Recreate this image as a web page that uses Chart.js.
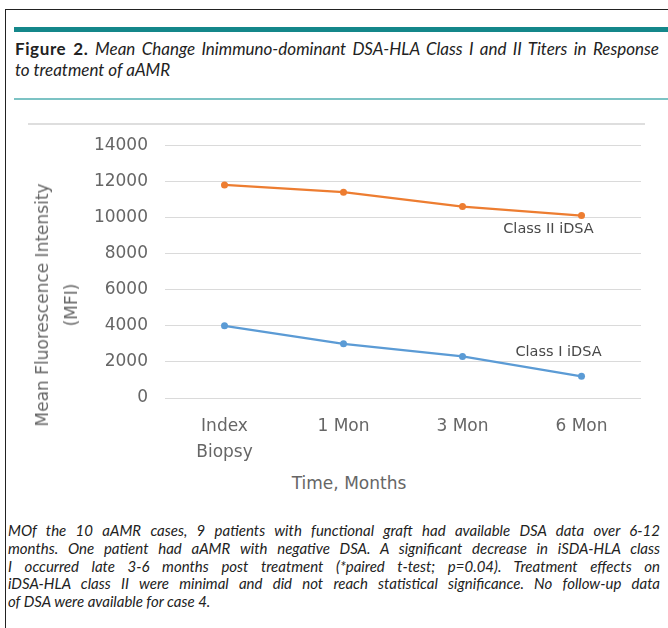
<!DOCTYPE html>
<html>
<head>
<meta charset="utf-8">
<script src="https://cdn.jsdelivr.net/npm/chart.js@4"></script>
<style>
  html, body { margin: 0; padding: 0; background: #fff; }
  body { width: 668px; height: 628px; position: relative; overflow: hidden; }
  .frame { position: absolute; left: 5px; top: 9px; width: 700px; height: 640px; border-left: 1px solid #222; border-top: 1px solid #222; }
  .bar { position: absolute; left: 14px; top: 27px; width: 654px; height: 5px; background: #14878a; }
  .thin { position: absolute; left: 14px; top: 98px; width: 654px; height: 2px; background: #7cc3c4; }
  .title { position: absolute; left: 15px; top: 38px; width: 644px; font-family: Lato, sans-serif; font-size: 17px; line-height: 21px; color: #222; }
  .title div { text-align: justify; text-align-last: justify; }
  .title div.last { text-align-last: left; }
  .title b { font-weight: 700; letter-spacing: 0.6px; }
  .title i { font-style: italic; }
  .chartbox { position: absolute; left: 28px; top: 123px; width: 617px; height: 2px; background: #dedede; }
  #wrap { position: absolute; left: 28px; top: 118px; width: 617px; height: 348px; }
  .ytitle { position: absolute; left: 57px; top: 305px; transform: translate(-50%, -50%) rotate(-90deg); font-family: "DejaVu Sans", sans-serif; font-size: 17px; line-height: 29px; color: #666; text-align: center; white-space: nowrap; }
  .xtitle { position: absolute; left: 349px; top: 483px; transform: translate(-50%, -50%); font-family: "DejaVu Sans", sans-serif; font-size: 17px; color: #666; white-space: nowrap; }
  .caption { position: absolute; left: 8px; top: 522px; width: 652px; font-family: Lato, sans-serif; font-style: italic; font-size: 15px; line-height: 17.8px; color: #222; }
  .caption div { text-align: justify; text-align-last: justify; }
  .caption div.last { text-align-last: left; }
</style>
</head>
<body>
<div class="frame"></div>
<div class="bar"></div>
<div class="title">
  <div><b>Figure 2.</b> <i>Mean Change Inimmuno-dominant DSA-HLA Class I and II Titers in Response</i></div>
  <div class="last"><i>to treatment of aAMR</i></div>
</div>
<div class="thin"></div>
<div class="chartbox"></div>
<div id="wrap"><canvas id="mfiChart"></canvas></div>
<div class="ytitle">Mean Fluorescence Intensity<br>(MFI)</div>
<div class="xtitle">Time, Months</div>
<div class="caption">
  <div>MOf the 10 aAMR cases, 9 patients with functional graft had available DSA data over 6-12</div>
  <div>months. One patient had aAMR with negative DSA. A significant decrease in iSDA-HLA class</div>
  <div>I occurred late 3-6 months post treatment (*paired t-test; p=0.04). Treatment effects on</div>
  <div>iDSA-HLA class II were minimal and did not reach statistical significance. No follow-up data</div>
  <div class="last">of DSA were available for case 4.</div>
</div>

<script>
// Data
const timeLabels = [["Index", "Biopsy"], "1 Mon", "3 Mon", "6 Mon"];
const classOne = [4000, 3000, 2300, 1200];
const classTwo = [11800, 11400, 10600, 10100];
const seriesNames = ["Class I iDSA", "Class II iDSA"];
const yTicks = [0, 2000, 4000, 6000, 8000, 10000, 12000, 14000];

const textGray = "#666";

// line-end labels, placed from the last point of each series
const seriesLabels = {
    id: "seriesLabels",
    afterDatasetsDraw(chart) {
        const c = chart.ctx;
        c.save();
        c.font = "14.5px 'DejaVu Sans'";
        c.fillStyle = "#484848";
        c.textAlign = "center";
        c.textBaseline = "middle";
        // Class II label sits below its last point
        const p2 = chart.getDatasetMeta(1).data[3];
        c.fillText(seriesNames[1], p2.x - 33, p2.y + 14);
        // Class I label sits above its last point
        const p1 = chart.getDatasetMeta(0).data[3];
        c.fillText(seriesNames[0], p1.x - 23, p1.y - 24);
        c.restore();
    }
};

const ctx = document.getElementById("mfiChart").getContext("2d");

new Chart(ctx, {
    type: "line",
    data: {
        labels: timeLabels,
        datasets: [{
            label: seriesNames[0],
            data: classOne,
            borderColor: "#5b9bd5",
            backgroundColor: "#5b9bd5",
            borderWidth: 2.25,
            pointRadius: 3.5,
            pointBorderWidth: 0,
            tension: 0
        }, {
            label: seriesNames[1],
            data: classTwo,
            borderColor: "#ed7d31",
            backgroundColor: "#ed7d31",
            borderWidth: 2.25,
            pointRadius: 3.5,
            pointBorderWidth: 0,
            tension: 0
        }]
    },
    options: {
        responsive: true,
        maintainAspectRatio: false,
        animation: false,
        layout: { padding: { top: 10, right: 2, left: 0, bottom: 0 } },
        plugins: {
            legend: { display: false },
            tooltip: { enabled: false }
        },
        scales: {
            x: {
                offset: true,
                grid: { display: false, drawTicks: false },
                border: { display: false },
                ticks: {
                    color: textGray,
                    padding: 15,
                    maxRotation: 0,
                    font: { family: "DejaVu Sans", size: 17, lineHeight: 1.55 }
                },
                afterFit(scale) { scale.height = 68; }
            },
            y: {
                min: 0,
                max: 14000,
                afterBuildTicks(scale) { scale.ticks = yTicks.map(v => ({ value: v })); },
                grid: { color: "#dadada", lineWidth: 1, drawTicks: false },
                border: { display: false },
                ticks: {
                    color: textGray,
                    padding: 17,
                    font: { family: "DejaVu Sans", size: 17 },
                    callback: value => String(value)
                },
                afterFit(scale) { scale.width = 137; }
            }
        }
    },
    plugins: [seriesLabels]
});
</script>
</body>
</html>
